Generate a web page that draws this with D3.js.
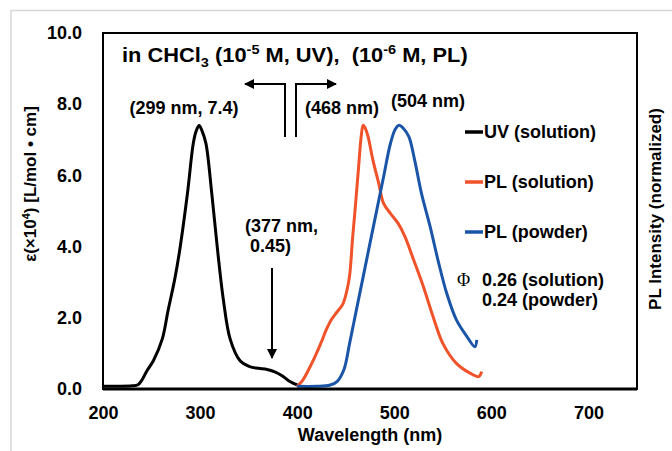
<!DOCTYPE html>
<html>
<head>
<meta charset="utf-8">
<script src="https://cdn.jsdelivr.net/npm/d3@7"></script>
<style>
    body { margin: 0; background: #fff; }
    text { font-family: "Liberation Sans", Arial, sans-serif; font-weight: bold; fill: #000; }
</style>
</head>
<body>
<div id="canvas"></div>
<script>
"use strict"

/* values were read off the reference picture by eye, so they are approximate */

// UV absorption (solution), epsilon x10^4
let uvWl  = [200, 215, 230, 236, 240, 245, 252, 261, 267, 274, 279, 287, 293, 296, 299, 302, 306, 312, 318, 324, 331, 341, 351, 360, 369, 377, 384, 392, 401];
let uvEps = [0.08, 0.08, 0.09, 0.12, 0.25, 0.5, 0.8, 1.4, 2.2, 3.1, 3.9, 5.5, 6.9, 7.25, 7.4, 7.25, 6.9, 5.5, 3.9, 2.5, 1.4, 0.8, 0.63, 0.58, 0.55, 0.48, 0.38, 0.22, 0.1];

// PL (solution), normalized
let plSolWl = [400, 406, 412, 418, 424, 430, 435, 441, 447, 451, 454, 457, 460, 463, 466, 468, 470, 473, 478, 484, 489, 496, 504, 511, 520, 530, 540, 550, 564, 578, 587, 590];
let plSolI  = [0.01, 0.035, 0.075, 0.12, 0.17, 0.225, 0.262, 0.292, 0.322, 0.37, 0.43, 0.569, 0.695, 0.83, 0.96, 1.0, 0.99, 0.957, 0.868, 0.78, 0.704, 0.666, 0.628, 0.578, 0.489, 0.388, 0.274, 0.173, 0.097, 0.06, 0.047, 0.066];

// PL (powder), normalized
let plPowWl = [400, 420, 434, 441, 448, 454, 461, 468, 475, 482, 489, 496, 501, 505, 509, 515, 521, 528, 537, 545, 554, 564, 575, 583, 585];
let plPowI  = [0.01, 0.01, 0.015, 0.028, 0.072, 0.173, 0.30, 0.426, 0.553, 0.679, 0.805, 0.93, 0.985, 1.0, 0.99, 0.957, 0.868, 0.742, 0.615, 0.489, 0.363, 0.262, 0.198, 0.16, 0.186];

let xTicks = [200, 300, 400, 500, 600, 700];
let yTicks = [0, 2, 4, 6, 8, 10];

let legendNames = ["UV (solution)", "PL (solution)", "PL (powder)"];
let legendColours = ["#000000", "#f0522a", "#1a55a8"];

let drawing = d3.select("#canvas")
    .append("svg")
    .attr("width", 672)
    .attr("height", 451);

// light grey frame round the whole figure (it runs off the picture on right + bottom)
drawing.append("path")
    .attr("d", "M11,451 V10.5 H672")
    .attr("fill", "none")
    .attr("stroke", "#d6d6d6")
    .attr("stroke-width", 1.5);

// plot box edges (named so they don't clash with window.top)
let pLeft = 103, pRight = 637, pTop = 33, pBottom = 389;

let x = d3.scaleLinear().domain([200, 750]).range([pLeft, pRight]);
let y = d3.scaleLinear().domain([0, 10]).range([pBottom, pTop]);
// PL is normalized, peak drawn at the same height as the UV peak
let y2 = d3.scaleLinear().domain([0, 1.35]).range([pBottom, pTop]);

// axes with no tick marks, just labels
let xAxis = drawing.append("g")
    .attr("transform", "translate(0," + pBottom + ")")
    .call(d3.axisBottom(x).tickValues(xTicks).tickSize(0).tickPadding(17).tickFormat(d3.format("d")));
xAxis.select(".domain").remove();
xAxis.selectAll("text").attr("font-size", 18).style("font-family", "Liberation Sans, Arial").style("font-weight", "bold");

let yAxis = drawing.append("g")
    .attr("transform", "translate(" + pLeft + ",0)")
    .call(d3.axisLeft(y).tickValues(yTicks).tickSize(0).tickPadding(21).tickFormat(d3.format(".1f")));
yAxis.select(".domain").remove();
yAxis.selectAll("text").attr("font-size", 18).style("font-family", "Liberation Sans, Arial").style("font-weight", "bold");

// curves
let uvLine = d3.line()
    .x((d, i) => x(uvWl[i]))
    .y(d => y(d))
    .curve(d3.curveCatmullRom);

let plLine = (wl) => d3.line()
    .x((d, i) => x(wl[i]))
    .y(d => y2(d))
    .curve(d3.curveCatmullRom);

drawing.append("path")
    .attr("d", uvLine(uvEps))
    .attr("fill", "none")
    .attr("stroke", legendColours[0])
    .attr("stroke-width", 3);

drawing.append("path")
    .attr("d", plLine(plSolWl)(plSolI))
    .attr("fill", "none")
    .attr("stroke", legendColours[1])
    .attr("stroke-width", 3);

drawing.append("path")
    .attr("d", plLine(plPowWl)(plPowI))
    .attr("fill", "none")
    .attr("stroke", legendColours[2])
    .attr("stroke-width", 3);

// plot frame
drawing.append("rect")
    .attr("x", pLeft)
    .attr("y", pTop)
    .attr("width", pRight - pLeft)
    .attr("height", pBottom - pTop)
    .attr("fill", "none")
    .attr("stroke", "#000")
    .attr("stroke-width", 2);
drawing.append("line")
    .attr("x1", pLeft).attr("x2", pRight)
    .attr("y1", pBottom).attr("y2", pBottom)
    .attr("stroke", "#000")
    .attr("stroke-width", 3);

// axis titles
drawing.append("text")
    .attr("x", (pLeft + pRight) / 2)
    .attr("y", 441)
    .attr("text-anchor", "middle")
    .attr("font-size", 18)
    .text("Wavelength (nm)");

let yTitle = drawing.append("text")
    .attr("transform", "translate(36,184) rotate(-90)")
    .attr("text-anchor", "middle")
    .attr("font-size", 17);
yTitle.append("tspan").text("ε(×10");
yTitle.append("tspan").attr("dy", -6).attr("font-size", 11).text("4");
yTitle.append("tspan").attr("dy", 6).text(") [L/mol • cm]");

drawing.append("text")
    .attr("transform", "translate(661,209) rotate(-90)")
    .attr("text-anchor", "middle")
    .attr("font-size", 17)
    .text("PL Intensity (normalized)");

// title with sub/superscripts, stretched a bit sideways like the original
let title = drawing.append("text")
    .attr("transform", "translate(122,62) scale(1.12,1)")
    .attr("font-size", 19.5)
    .style("white-space", "pre");
title.append("tspan").text("in CHCl");
title.append("tspan").attr("dy", 5).attr("font-size", 13).text("3");
title.append("tspan").attr("dy", -5).text(" (10");
title.append("tspan").attr("dy", -8).attr("font-size", 13).text("-5");
title.append("tspan").attr("dy", 8).text(" M, UV),  (10");
title.append("tspan").attr("dy", -8).attr("font-size", 13).text("-6");
title.append("tspan").attr("dy", 8).text(" M, PL)");

// peak annotations
let notes = [
    { t: "(299 nm, 7.4)", x: 184, y: 108, a: "middle" },
    { t: "(468 nm)", x: 342, y: 108, a: "middle" },
    { t: "(504 nm)", x: 428, y: 101, a: "middle" },
    { t: "(377 nm,", x: 245, y: 226, a: "start" },
    { t: "0.45)", x: 250, y: 246, a: "start" }
];
drawing.selectAll(".note")
    .data(notes)
    .enter()
    .append("text")
    .attr("class", "note")
    .attr("x", d => d.x)
    .attr("y", d => d.y)
    .attr("dy", "0.35em")
    .attr("text-anchor", d => d.a)
    .attr("font-size", 18)
    .text(d => d.t);

// arrows
let defs = drawing.append("defs");
defs.append("marker")
    .attr("id", "head")
    .attr("viewBox", "0 0 10 10")
    .attr("refX", 9).attr("refY", 5)
    .attr("markerWidth", 5).attr("markerHeight", 5)
    .attr("orient", "auto")
    .append("path")
    .attr("d", "M0,0 L10,5 L0,10 Z")
    .attr("fill", "#000");

let arrows = ["M285,137 V84 H245", "M296,137 V84 H336", "M272,268 V358"];
drawing.selectAll(".arrow")
    .data(arrows)
    .enter()
    .append("path")
    .attr("class", "arrow")
    .attr("d", d => d)
    .attr("fill", "none")
    .attr("stroke", "#000")
    .attr("stroke-width", 2)
    .attr("marker-end", "url(#head)");

// legend
let legend = drawing.selectAll(".leg")
    .data(legendNames)
    .enter()
    .append("g")
    .attr("class", "leg")
    .attr("transform", (d, i) => "translate(465," + (132 + i * 50) + ")");
legend.append("line")
    .attr("x1", 0).attr("x2", 18)
    .attr("stroke", (d, i) => legendColours[i])
    .attr("stroke-width", 3.5);
legend.append("text")
    .attr("x", 19)
    .attr("dy", "0.35em")
    .attr("font-size", 18)
    .text(d => d);

// quantum yields
drawing.append("text")
    .attr("x", 457).attr("y", 280).attr("dy", "0.35em")
    .attr("font-size", 18)
    .style("font-family", "Liberation Serif, serif")
    .style("font-weight", "normal")
    .text("Φ");
drawing.append("text")
    .attr("x", 482).attr("y", 280).attr("dy", "0.35em")
    .attr("font-size", 18)
    .text("0.26 (solution)");
drawing.append("text")
    .attr("x", 482).attr("y", 300).attr("dy", "0.35em")
    .attr("font-size", 18)
    .text("0.24 (powder)");
</script>
</body>
</html>
